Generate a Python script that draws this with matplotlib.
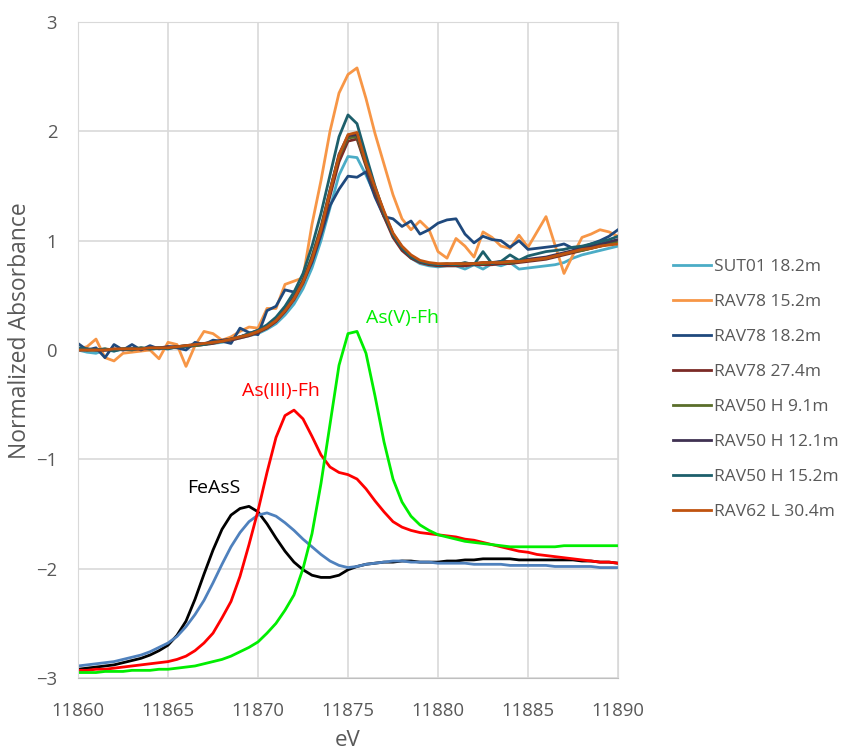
import numpy as np
import matplotlib
matplotlib.use("Agg")
import matplotlib.pyplot as plt

plt.rcParams['font.family'] = ['Open Sans', 'DejaVu Sans']

# energy grid (eV), 0.5 eV steps
energy = np.arange(11860, 11890.01, 0.5)

# sample spectra
sut01_182 = [0.00, -0.02, -0.03, 0.00, -0.01, 0.01, -0.01, 0.01, 0.00, 0.02, 0.01, 0.03, 0.03, 0.04, 0.05,
             0.06, 0.07, 0.09, 0.11, 0.13, 0.15, 0.19, 0.24, 0.32, 0.42, 0.56, 0.75, 1.00, 1.30, 1.60,
             1.77, 1.76, 1.60, 1.42, 1.22, 1.05, 0.93, 0.84, 0.79, 0.77, 0.76, 0.77, 0.77, 0.74, 0.78,
             0.74, 0.79, 0.77, 0.80, 0.74, 0.75, 0.76, 0.77, 0.78, 0.80, 0.84, 0.87, 0.89, 0.91, 0.93, 0.95]
rav78_152 = [0.01, 0.03, 0.10, -0.07, -0.10, -0.03, -0.02, -0.01, 0.00, -0.08, 0.07, 0.05, -0.15, 0.04, 0.17,
             0.15, 0.09, 0.12, 0.17, 0.21, 0.20, 0.38, 0.38, 0.60, 0.63, 0.66, 1.15, 1.55, 2.00, 2.35,
             2.52, 2.58, 2.30, 1.98, 1.70, 1.42, 1.20, 1.10, 1.18, 1.10, 0.90, 0.84, 1.02, 0.95, 0.85,
             1.08, 1.03, 0.95, 0.93, 1.05, 0.94, 1.08, 1.22, 0.96, 0.70, 0.87, 1.03, 1.06, 1.10, 1.08, 1.04]
rav78_182 = [0.06, 0.00, 0.02, -0.07, 0.05, 0.00, 0.05, 0.00, 0.04, 0.01, 0.03, 0.02, 0.00, 0.07, 0.05,
             0.09, 0.08, 0.06, 0.20, 0.16, 0.14, 0.36, 0.40, 0.55, 0.53, 0.62, 0.80, 1.05, 1.32, 1.47,
             1.59, 1.58, 1.63, 1.40, 1.22, 1.20, 1.13, 1.18, 1.06, 1.10, 1.16, 1.19, 1.20, 1.06, 0.98,
             1.04, 1.01, 1.00, 0.94, 1.00, 0.92, 0.93, 0.94, 0.95, 0.97, 0.93, 0.94, 0.97, 1.00, 1.04, 1.10]
rav78_274 = [0.00, 0.00, 0.00, 0.00, 0.00, 0.01, 0.01, 0.01, 0.01, 0.02, 0.02, 0.03, 0.03, 0.04, 0.05,
             0.06, 0.08, 0.09, 0.11, 0.13, 0.16, 0.20, 0.26, 0.35, 0.46, 0.61, 0.82, 1.08, 1.41, 1.72,
             1.91, 1.93, 1.68, 1.44, 1.22, 1.03, 0.91, 0.84, 0.80, 0.78, 0.77, 0.77, 0.77, 0.77, 0.78,
             0.78, 0.78, 0.79, 0.79, 0.80, 0.81, 0.82, 0.83, 0.85, 0.87, 0.89, 0.91, 0.93, 0.95, 0.97, 0.99]
rav50h_91 = [0.01, 0.00, 0.00, 0.01, 0.00, 0.01, 0.01, 0.02, 0.01, 0.02, 0.02, 0.03, 0.04, 0.04, 0.05,
             0.07, 0.08, 0.10, 0.12, 0.14, 0.17, 0.21, 0.28, 0.37, 0.49, 0.64, 0.86, 1.13, 1.46, 1.77,
             1.94, 1.95, 1.70, 1.47, 1.25, 1.06, 0.94, 0.86, 0.81, 0.79, 0.78, 0.78, 0.78, 0.79, 0.79,
             0.79, 0.80, 0.80, 0.80, 0.81, 0.82, 0.83, 0.84, 0.86, 0.88, 0.90, 0.91, 0.93, 0.95, 0.97, 0.99]
rav50h_121 = [0.00, 0.01, 0.00, 0.00, 0.01, 0.00, 0.01, 0.01, 0.02, 0.02, 0.03, 0.03, 0.04, 0.05, 0.06,
              0.07, 0.09, 0.10, 0.12, 0.15, 0.18, 0.22, 0.28, 0.37, 0.48, 0.63, 0.84, 1.11, 1.46, 1.79,
              1.96, 1.97, 1.72, 1.48, 1.26, 1.06, 0.94, 0.86, 0.81, 0.79, 0.78, 0.78, 0.79, 0.79, 0.79,
              0.80, 0.80, 0.81, 0.81, 0.82, 0.83, 0.84, 0.85, 0.87, 0.89, 0.91, 0.93, 0.95, 0.97, 0.99, 1.01]
rav50h_152 = [0.02, 0.01, 0.00, 0.01, -0.01, 0.01, 0.00, 0.02, 0.01, 0.02, 0.01, 0.03, 0.03, 0.05, 0.05,
              0.07, 0.08, 0.10, 0.12, 0.15, 0.18, 0.23, 0.30, 0.40, 0.53, 0.70, 0.95, 1.25, 1.60, 1.95,
              2.15, 2.07, 1.78, 1.50, 1.25, 1.05, 0.93, 0.85, 0.81, 0.79, 0.78, 0.79, 0.78, 0.80, 0.78,
              0.90, 0.79, 0.81, 0.87, 0.82, 0.86, 0.88, 0.90, 0.91, 0.92, 0.94, 0.95, 0.97, 0.99, 1.01, 1.04]
rav62l_304 = [0.00, 0.00, 0.00, 0.00, 0.01, 0.01, 0.01, 0.01, 0.02, 0.02, 0.02, 0.03, 0.04, 0.05, 0.06,
              0.07, 0.08, 0.10, 0.12, 0.14, 0.17, 0.21, 0.27, 0.36, 0.47, 0.62, 0.83, 1.10, 1.45, 1.78,
              1.97, 1.99, 1.71, 1.49, 1.27, 1.07, 0.95, 0.87, 0.82, 0.80, 0.79, 0.79, 0.79, 0.79, 0.79,
              0.80, 0.80, 0.80, 0.81, 0.81, 0.82, 0.83, 0.84, 0.86, 0.88, 0.90, 0.92, 0.93, 0.95, 0.96, 0.97]

sample_labels = ["SUT01 18.2m", "RAV78 15.2m", "RAV78 18.2m", "RAV78 27.4m",
                 "RAV50 H 9.1m", "RAV50 H 12.1m", "RAV50 H 15.2m", "RAV62 L 30.4m"]
sample_colors = ["#4BACC6", "#F79646", "#1F497D", "#7B2A26",
                 "#5A6E2A", "#403152", "#1D5F6B", "#C0530F"]
samples = [sut01_182, rav78_152, rav78_182, rav78_274,
           rav50h_91, rav50h_121, rav50h_152, rav62l_304]

# reference standards (offset)
feass = [-2.92, -2.91, -2.90, -2.89, -2.88, -2.86, -2.84, -2.82, -2.79, -2.75, -2.70, -2.61, -2.48, -2.28, -2.05,
         -1.83, -1.64, -1.51, -1.45, -1.43, -1.48, -1.59, -1.72, -1.84, -1.94, -2.01, -2.06, -2.08, -2.08, -2.06,
         -2.01, -1.98, -1.96, -1.95, -1.94, -1.94, -1.93, -1.93, -1.94, -1.94, -1.94, -1.93, -1.93, -1.92, -1.92,
         -1.91, -1.91, -1.91, -1.91, -1.92, -1.92, -1.92, -1.92, -1.92, -1.92, -1.92, -1.93, -1.93, -1.94, -1.94, -1.95]
ref_blue = [-2.89, -2.88, -2.87, -2.86, -2.85, -2.83, -2.81, -2.79, -2.76, -2.72, -2.68, -2.62, -2.53, -2.42, -2.29,
            -2.13, -1.96, -1.80, -1.67, -1.57, -1.51, -1.49, -1.52, -1.58, -1.65, -1.73, -1.80, -1.87, -1.93, -1.97,
            -1.99, -1.98, -1.96, -1.95, -1.94, -1.93, -1.93, -1.94, -1.94, -1.94, -1.95, -1.95, -1.95, -1.95, -1.96,
            -1.96, -1.96, -1.96, -1.97, -1.97, -1.97, -1.97, -1.97, -1.98, -1.98, -1.98, -1.98, -1.98, -1.99, -1.99, -1.99]
as3_fh = [-2.93, -2.93, -2.92, -2.92, -2.91, -2.90, -2.89, -2.88, -2.87, -2.86, -2.85, -2.83, -2.80, -2.75, -2.68,
          -2.59, -2.45, -2.30, -2.07, -1.78, -1.47, -1.12, -0.80, -0.60, -0.55, -0.63, -0.79, -0.96, -1.07, -1.12,
          -1.14, -1.18, -1.27, -1.38, -1.48, -1.57, -1.62, -1.65, -1.67, -1.68, -1.69, -1.70, -1.71, -1.73, -1.74,
          -1.76, -1.78, -1.80, -1.82, -1.84, -1.85, -1.87, -1.88, -1.89, -1.90, -1.91, -1.92, -1.93, -1.94, -1.94, -1.95]
as5_fh = [-2.95, -2.95, -2.95, -2.94, -2.94, -2.94, -2.93, -2.93, -2.93, -2.92, -2.92, -2.91, -2.90, -2.89, -2.87,
          -2.85, -2.83, -2.80, -2.76, -2.72, -2.67, -2.59, -2.50, -2.38, -2.24, -2.00, -1.68, -1.22, -0.68, -0.14,
          0.15, 0.17, -0.03, -0.42, -0.84, -1.18, -1.39, -1.52, -1.60, -1.65, -1.69, -1.71, -1.73, -1.75, -1.76,
          -1.77, -1.78, -1.79, -1.80, -1.80, -1.80, -1.80, -1.80, -1.80, -1.79, -1.79, -1.79, -1.79, -1.79, -1.79, -1.79]

fig = plt.figure(figsize=(8.41, 7.51), dpi=100)
ax = fig.add_axes([78 / 841, 1 - 678 / 751, 540 / 841, 656 / 751])

# reference curves
ax.plot(energy, feass, color="black", lw=2.0)
ax.plot(energy, ref_blue, color="#4F81BD", lw=2.0)
ax.plot(energy, as3_fh, color="#FF0000", lw=2.0)
ax.plot(energy, as5_fh, color="#00EE00", lw=2.0)

handles = []
for vals, lab, col in zip(samples, sample_labels, sample_colors):
    ln, = ax.plot(energy, vals, color=col, lw=2.0, label=lab)
    handles.append(ln)

ax.text(11866.05, -1.26, "FeAsS", color="black", fontsize=14, va="center")
ax.text(11869.1, -0.375, "As(III)-Fh", color="#FF0000", fontsize=14, va="center")
ax.text(11876.0, 0.29, "As(V)-Fh", color="#00EE00", fontsize=14, va="center")

ax.set_xlim(11860, 11890)
ax.set_ylim(-3, 3)
ax.set_xticks(np.arange(11860, 11891, 5))
ax.set_yticks(np.arange(-3, 4, 1))
ax.grid(True, color="#D9D9D9", lw=1.2)
ax.set_axisbelow(True)
for s in ax.spines.values():
    s.set_color("#D9D9D9")
ax.spines["bottom"].set_color("#BFBFBF")
ax.tick_params(length=0, labelsize=13.3, labelcolor="#595959")
ax.tick_params(axis="y", pad=15)
ax.tick_params(axis="x", pad=17)

ax.set_xlabel("eV", fontsize=16, color="#595959")
ax.set_ylabel("Normalized Absorbance", fontsize=16.5, color="#595959")
ax.xaxis.set_label_coords(0.5, -0.080)
ax.yaxis.set_label_coords(-0.085, 0.529)

leg = fig.legend(handles=handles, loc="center left", bbox_to_anchor=(673 / 841, 1 - 389.5 / 751),
                 frameon=False, fontsize=12.5, handlelength=2.2, handletextpad=0.15,
                 labelspacing=1.09, borderpad=0, borderaxespad=0)
for t in leg.get_texts():
    t.set_color("#595959")

fig.savefig("out.png", dpi=100)
